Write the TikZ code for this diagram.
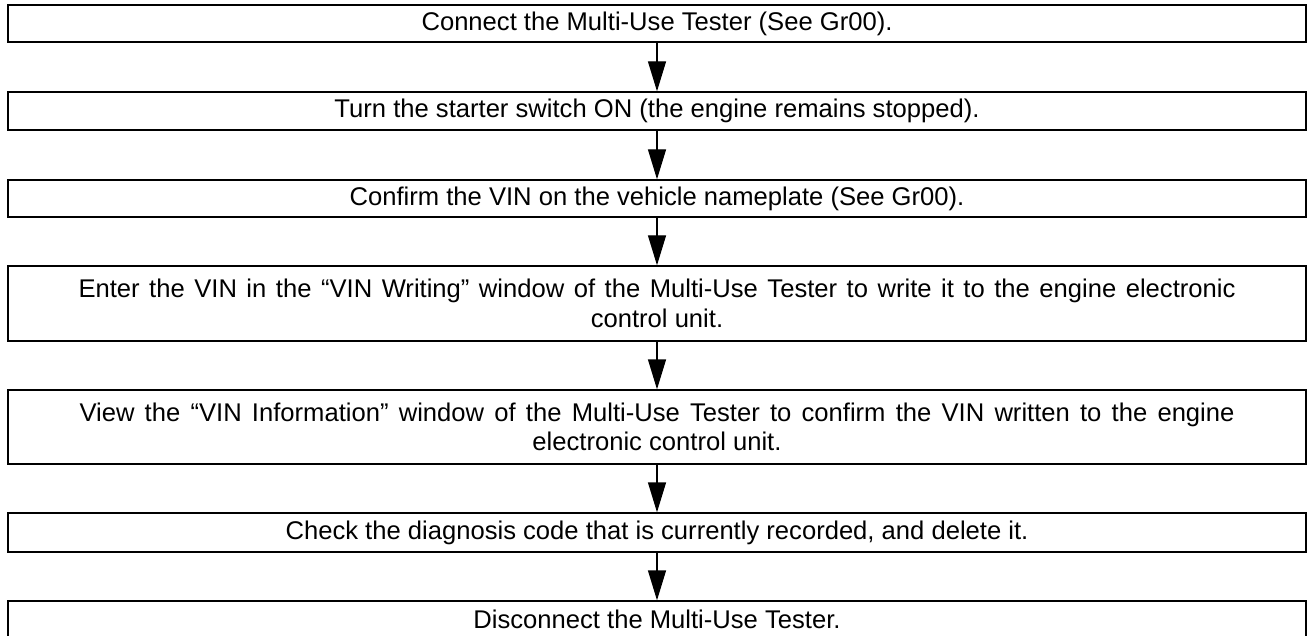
\documentclass[tikz,border=0pt]{standalone}
\usepackage{fontspec}
\setmainfont{Liberation Sans}
\usetikzlibrary{arrows.meta}
\begin{document}
\begin{tikzpicture}[x=1pt,y=1pt,
  stepbox/.style={draw, line width=1.4pt, minimum width=1298pt, inner sep=0pt,
    align=center, font=\fontsize{25.6pt}{29.5pt}\selectfont},
  flowarrow/.style={line width=1.4pt, -{Triangle[length=30pt,width=18pt]}}]
\useasboundingbox (0,0) rectangle (1308,-636);
\node[stepbox, minimum height=37pt] (b1) at (657,-23.5) {Connect the Multi-Use Tester (See Gr00).};
\node[stepbox, minimum height=38pt] (b2) at (657,-111) {Turn the starter switch ON (the engine remains stopped).};
\node[stepbox, minimum height=37pt] (b3) at (657,-198.5) {Confirm the VIN on the vehicle nameplate (See Gr00).};
\node[stepbox, minimum height=75pt] (b4) at (657,-303.5) {\makebox[1157pt][s]{Enter the VIN in the “VIN Writing” window of the Multi-Use Tester to write it to the engine electronic}\\control unit.};
\node[stepbox, minimum height=74pt] (b5) at (657,-427) {\makebox[1155pt][s]{View the “VIN Information” window of the Multi-Use Tester to confirm the VIN written to the engine}\\electronic control unit.};
\node[stepbox, minimum height=39pt] (b6) at (657,-532.5) {Check the diagnosis code that is currently recorded, and delete it.};
\node[stepbox, minimum height=37pt] (b7) at (657,-619.5) {Disconnect the Multi-Use Tester.};
\draw[flowarrow] (b1.south) -- (b2.north);
\draw[flowarrow] (b2.south) -- (b3.north);
\draw[flowarrow] (b3.south) -- (b4.north);
\draw[flowarrow] (b4.south) -- (b5.north);
\draw[flowarrow] (b5.south) -- (b6.north);
\draw[flowarrow] (b6.south) -- (b7.north);
\end{tikzpicture}
\end{document}
